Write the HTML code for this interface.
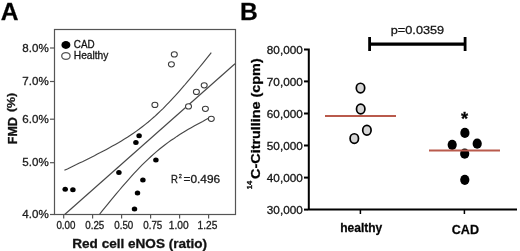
<!DOCTYPE html>
<html><head><meta charset="utf-8">
<style>
html,body{margin:0;padding:0;background:#fff;width:520px;height:251px;overflow:hidden;}
svg{display:block;will-change:transform;font-family:"Liberation Sans",sans-serif;}
text{stroke:#1a1a1a;stroke-width:0.3px;}
</style></head>
<body>
<svg width="520" height="251" viewBox="0 0 520 251">
<rect x="0" y="0" width="520" height="251" fill="#fff"/>
<!-- ================= Panel A ================= -->
<text x="0.8" y="20.2" font-size="24.6" font-weight="bold" fill="#000">A</text>
<!-- frame -->
<rect x="54.5" y="29.5" width="181" height="185" fill="none" stroke="#555" stroke-width="1.2"/>
<!-- y ticks -->
<g stroke="#555" stroke-width="1.2">
<line x1="50" y1="48" x2="54.5" y2="48"/>
<line x1="50" y1="81.5" x2="54.5" y2="81.5"/>
<line x1="50" y1="119.2" x2="54.5" y2="119.2"/>
<line x1="50" y1="162.7" x2="54.5" y2="162.7"/>
<line x1="50" y1="214.5" x2="54.5" y2="214.5"/>
<line x1="63.7" y1="214.5" x2="63.7" y2="218.5"/>
<line x1="92.6" y1="214.5" x2="92.6" y2="218.5"/>
<line x1="121.6" y1="214.5" x2="121.6" y2="218.5"/>
<line x1="150.6" y1="214.5" x2="150.6" y2="218.5"/>
<line x1="179.6" y1="214.5" x2="179.6" y2="218.5"/>
<line x1="208.6" y1="214.5" x2="208.6" y2="218.5"/>
</g>
<g font-size="11.5" fill="#222" text-anchor="end">
<text x="48.7" y="51.5" textLength="26.4" lengthAdjust="spacingAndGlyphs">8.0%</text>
<text x="48.7" y="85" textLength="26.4" lengthAdjust="spacingAndGlyphs">7.0%</text>
<text x="48.7" y="123" textLength="26.4" lengthAdjust="spacingAndGlyphs">6.0%</text>
<text x="48.7" y="166.3" textLength="26.4" lengthAdjust="spacingAndGlyphs">5.0%</text>
<text x="48.7" y="218" textLength="26.4" lengthAdjust="spacingAndGlyphs">4.0%</text>
</g>
<g font-size="10.3" fill="#222">
<text x="56.4" y="228.5" textLength="19" lengthAdjust="spacingAndGlyphs">0.00</text>
<text x="85.3" y="228.5" textLength="19" lengthAdjust="spacingAndGlyphs">0.25</text>
<text x="114.3" y="228.5" textLength="19" lengthAdjust="spacingAndGlyphs">0.50</text>
<text x="143.3" y="228.5" textLength="19" lengthAdjust="spacingAndGlyphs">0.75</text>
<text x="168.8" y="228.5" textLength="19.8" lengthAdjust="spacingAndGlyphs">1.00</text>
<text x="197.6" y="228.5" textLength="19.8" lengthAdjust="spacingAndGlyphs">1.25</text>
</g>
<text x="72.3" y="247.6" font-size="12.2" font-weight="bold" fill="#111" textLength="134.8" lengthAdjust="spacingAndGlyphs">Red cell eNOS (ratio)</text>
<g transform="translate(16.75,144.2) rotate(-90)" font-weight="bold" fill="#111">
<text x="0" y="0" font-size="12.5" textLength="27.1" lengthAdjust="spacingAndGlyphs">FMD</text>
<text x="32.1" y="-1.55" font-size="11.3" textLength="19.2" lengthAdjust="spacingAndGlyphs">(%)</text>
</g>
<!-- legend -->
<ellipse cx="65.9" cy="45.0" rx="4.5" ry="3.95" fill="#000"/>
<ellipse cx="65.9" cy="56" rx="4.2" ry="3.4" fill="#fff" stroke="#555" stroke-width="1.3"/>
<text x="73.8" y="48" font-size="10.5" fill="#111" textLength="20.8" lengthAdjust="spacingAndGlyphs">CAD</text>
<text x="73.8" y="59.4" font-size="10.4" fill="#111" textLength="34.6" lengthAdjust="spacingAndGlyphs">Healthy</text>
<!-- regression + CI -->
<g fill="none" stroke="#474747" stroke-width="1.15">
<path d="M64.7,214.5 L235,63.7"/>
<path d="M64.4,170.3 L67.4,168.9 L70.4,167.4 L73.4,166.0 L76.4,164.6 L79.4,163.1 L82.4,161.7 L85.4,160.2 L88.4,158.7 L91.4,157.2 L94.4,155.7 L97.4,154.1 L100.4,152.6 L103.4,151.0 L106.4,149.4 L109.4,147.8 L112.4,146.1 L115.4,144.4 L118.4,142.7 L121.4,140.9 L124.4,139.1 L127.4,137.2 L130.4,135.2 L133.4,133.2 L136.4,131.1 L139.3,129.0 L142.3,126.7 L145.3,124.4 L148.3,122.0 L151.3,119.4 L154.3,116.8 L157.3,114.0 L160.3,111.2 L163.3,108.3 L166.3,105.2 L169.3,102.1 L172.3,98.9 L175.3,95.7 L178.3,92.3 L181.3,88.9 L184.3,85.5 L187.3,81.9 L190.3,78.4 L193.3,74.8 L196.3,71.2 L199.3,67.5 L202.3,63.8 L205.3,60.1 L208.3,56.3 L211.3,52.6"/>
<path d="M99.4,214.5 L102.2,210.9 L105.1,207.4 L108.0,203.8 L110.8,200.3 L113.7,196.9 L116.6,193.4 L119.5,190.0 L122.3,186.6 L125.2,183.3 L128.1,180.1 L130.9,176.9 L133.8,173.7 L136.7,170.6 L139.5,167.6 L142.4,164.7 L145.3,161.9 L148.2,159.1 L151.0,156.5 L153.9,153.9 L156.8,151.4 L159.6,149.0 L162.5,146.7 L165.4,144.5 L168.2,142.4 L171.1,140.3 L174.0,138.4 L176.9,136.4 L179.7,134.6 L182.6,132.8 L185.5,131.0 L188.3,129.3 L191.2,127.7 L194.1,126.1 L196.9,124.5 L199.8,122.9 L202.7,121.4 L205.6,119.8 L208.4,118.3 L211.3,116.9"/>
</g>
<!-- CAD dots -->
<g fill="#000">
<ellipse cx="65.2" cy="189.3" rx="2.75" ry="2.5"/>
<ellipse cx="72.9" cy="189.8" rx="2.75" ry="2.5"/>
<ellipse cx="118.9" cy="172.4" rx="2.75" ry="2.5"/>
<ellipse cx="135.9" cy="142.6" rx="2.75" ry="2.5"/>
<ellipse cx="139.1" cy="135.8" rx="2.75" ry="2.5"/>
<ellipse cx="155.9" cy="160.1" rx="2.75" ry="2.5"/>
<ellipse cx="142.9" cy="180" rx="2.75" ry="2.5"/>
<ellipse cx="137.5" cy="192.9" rx="2.75" ry="2.5"/>
<ellipse cx="134.5" cy="208.9" rx="2.75" ry="2.5"/>
</g>
<!-- Healthy circles -->
<g fill="#fff" stroke="#3d3d3d" stroke-width="1.05">
<ellipse cx="174.3" cy="54.4" rx="3" ry="2.6"/>
<ellipse cx="171.4" cy="64.3" rx="3" ry="2.6"/>
<ellipse cx="204.2" cy="85.3" rx="3" ry="2.6"/>
<ellipse cx="196.4" cy="91.9" rx="3" ry="2.6"/>
<ellipse cx="154.9" cy="104.9" rx="3" ry="2.6"/>
<ellipse cx="188.5" cy="106.4" rx="3" ry="2.6"/>
<ellipse cx="205.4" cy="108.8" rx="3" ry="2.6"/>
<ellipse cx="211.3" cy="118.8" rx="3" ry="2.6"/>
</g>
<text x="171" y="182.5" font-size="10.5" fill="#222" textLength="6.9" lengthAdjust="spacingAndGlyphs">R</text>
<text x="178.8" y="178" font-size="5.5" fill="#222">2</text>
<text x="183.5" y="182.5" font-size="10.5" fill="#222" textLength="36.7" lengthAdjust="spacingAndGlyphs">=0.496</text>

<!-- ================= Panel B ================= -->
<text x="239.9" y="20.2" font-size="24.6" font-weight="bold" fill="#000">B</text>
<!-- axes -->
<g stroke="#000" stroke-width="2" fill="none">
<path d="M304,49.4 H308.8 V209.6 H517"/>
<line x1="304" y1="81.4" x2="308" y2="81.4"/>
<line x1="304" y1="113.5" x2="308" y2="113.5"/>
<line x1="304" y1="145.5" x2="308" y2="145.5"/>
<line x1="304" y1="177.6" x2="308" y2="177.6"/>
<line x1="304" y1="209.6" x2="308" y2="209.6"/>
</g>
<g stroke="#000" stroke-width="1.5">
<line x1="360.4" y1="210" x2="360.4" y2="214"/>
<line x1="464.4" y1="210" x2="464.4" y2="214"/>
</g>
<g font-size="11.8" fill="#111" text-anchor="end">
<text x="302.8" y="53.9" textLength="36" lengthAdjust="spacingAndGlyphs">80,000</text>
<text x="302.8" y="85.9" textLength="36" lengthAdjust="spacingAndGlyphs">70,000</text>
<text x="302.8" y="118.0" textLength="36" lengthAdjust="spacingAndGlyphs">60,000</text>
<text x="302.8" y="150.0" textLength="36" lengthAdjust="spacingAndGlyphs">50,000</text>
<text x="302.8" y="182.1" textLength="36" lengthAdjust="spacingAndGlyphs">40,000</text>
<text x="302.8" y="214.1" textLength="36" lengthAdjust="spacingAndGlyphs">30,000</text>
</g>
<text x="340.3" y="231.6" font-size="12" font-weight="bold" fill="#000" textLength="42" lengthAdjust="spacingAndGlyphs">healthy</text>
<text x="451.8" y="234.2" font-size="12.8" font-weight="bold" fill="#000" textLength="27.2" lengthAdjust="spacingAndGlyphs">CAD</text>
<!-- y title -->
<g transform="translate(259.6,189.5) rotate(-90)" fill="#000" font-weight="bold">
<text x="0.2" y="-7.2" font-size="7.6" textLength="8.4" lengthAdjust="spacingAndGlyphs">14</text>
<text x="10.6" y="0" font-size="12.6" textLength="120.6" lengthAdjust="spacingAndGlyphs">C-Citrulline (cpm)</text>
</g>
<!-- p bracket -->
<g stroke="#000" fill="none">
<line x1="369.6" y1="44.1" x2="465.1" y2="44.1" stroke-width="3.2"/>
<line x1="369.6" y1="37" x2="369.6" y2="51" stroke-width="2.8"/>
<line x1="465.1" y1="37" x2="465.1" y2="51" stroke-width="2.8"/>
</g>
<text x="390.8" y="33.7" font-size="11.5" fill="#111" textLength="53.4" lengthAdjust="spacingAndGlyphs">p=0.0359</text>
<!-- healthy points -->
<g fill="#d6d6d6" stroke="#000" stroke-width="1.7">
<ellipse cx="360.5" cy="88.1" rx="4.2" ry="4.85"/>
<ellipse cx="360.7" cy="109.0" rx="4.2" ry="4.85"/>
<ellipse cx="366.9" cy="130.3" rx="4.2" ry="4.85"/>
<ellipse cx="354.3" cy="138.6" rx="4.2" ry="4.85"/>
</g>
<line x1="325" y1="116" x2="396" y2="116" stroke="#b95a4c" stroke-width="2"/>
<!-- CAD points -->
<g fill="#000">
<ellipse cx="464.9" cy="132.9" rx="4.6" ry="5.1"/>
<ellipse cx="452.2" cy="144.8" rx="4.6" ry="5.1"/>
<ellipse cx="477.2" cy="143.7" rx="4.6" ry="5.1"/>
<ellipse cx="464.7" cy="153.7" rx="4.6" ry="5.1"/>
<ellipse cx="464.8" cy="179.8" rx="4.6" ry="5.1"/>
</g>
<line x1="429" y1="150.5" x2="500" y2="150.5" stroke="#b95a4c" stroke-width="2"/>
<text x="464.6" y="125.1" font-size="18.3" font-weight="bold" fill="#000" text-anchor="middle">*</text>
</svg>
</body></html>
